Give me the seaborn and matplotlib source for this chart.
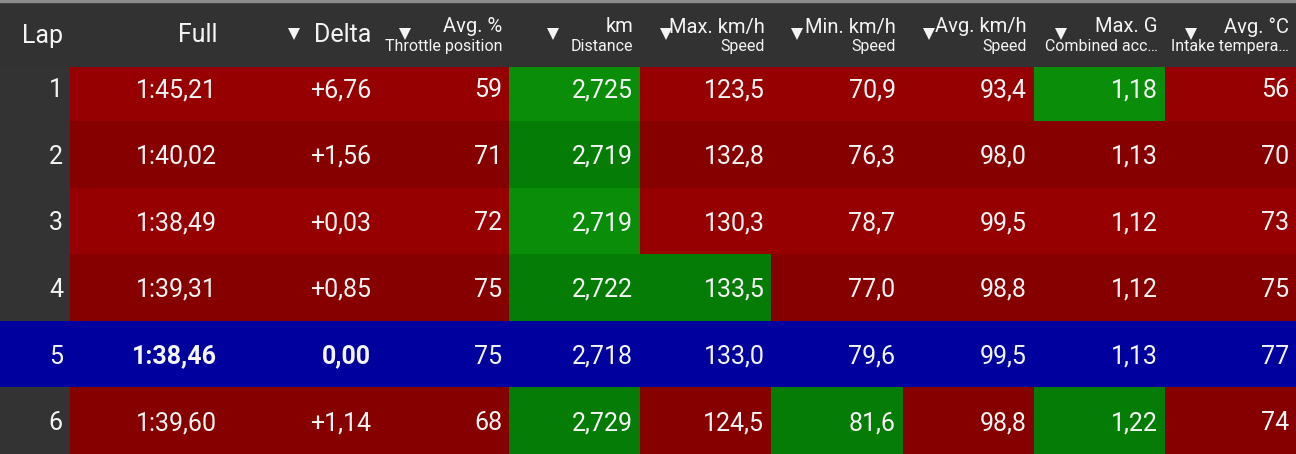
import numpy as np
import pandas as pd
import matplotlib
matplotlib.use("Agg")
import matplotlib.pyplot as plt
from matplotlib.colors import ListedColormap
from matplotlib.patches import Rectangle
import seaborn as sns

# ---------------- data ----------------
laps = [1, 2, 3, 4, 5, 6]
full_times = ["1:45,21", "1:40,02", "1:38,49", "1:39,31", "1:38,46", "1:39,60"]
deltas = ["+6,76", "+1,56", "+0,03", "+0,85", "0,00", "+1,14"]
throttle = [59, 71, 72, 75, 75, 68]
distance = [2.725, 2.719, 2.719, 2.722, 2.718, 2.729]
max_speed = [123.5, 132.8, 130.3, 133.5, 133.0, 124.5]
min_speed = [70.9, 76.3, 78.7, 77.0, 79.6, 81.6]
avg_speed = [93.4, 98.0, 99.5, 98.8, 99.5, 98.8]
max_g = [1.18, 1.13, 1.12, 1.12, 1.13, 1.22]
intake_temp = [56, 70, 73, 75, 77, 74]
best_lap = 5

header_main = ["Lap", "Full", "Delta", "Avg. %", "km", "Max. km/h",
               "Min. km/h", "Avg. km/h", "Max. G", "Avg. °C"]
header_sub = ["", "", "", "Throttle position", "Distance", "Speed",
              "Speed", "Speed", "Combined acc…", "Intake tempera…"]
sort_marker = [False, False, True, True, True, True, True, True, True, True]

metric_values = [throttle, distance, max_speed, min_speed, avg_speed, max_g, intake_temp]
metric_decimals = [0, 3, 1, 1, 1, 2, 0]

# ---------------- style / layout ----------------
W, H = 1296, 454
HEADER_H = 67
ROW_H = 66.6
LAP_W = 70
FD_W = 154
REST_W = (W - LAP_W - 2 * FD_W) / 7
PAD = 7

FONT = ["Roboto", "DejaVu Sans"]
TXT = "#f4f4f4"
palette = ["#960000", "#860000",   # red (odd/even rows)
           "#0a8e0a", "#057c05",   # green
           "#00009e", "#00009e",   # blue (best lap)
           "#333333", "#333333"]   # gray (lap column)
cmap = ListedColormap(palette)
RED, GREEN, BLUE, GRAY = 0, 1, 2, 3

sns.set_theme(style="white")
plt.rcParams["font.family"] = FONT

best_idx = laps.index(best_lap)
n = len(laps)


def code(kind, r):
    if r == best_idx:
        return BLUE * 2
    return kind * 2 + (r % 2)


def fmt_num(v, d):
    return f"{v:.{d}f}".replace(".", ",")


lap_codes = pd.DataFrame({"Lap": [code(GRAY, r) for r in range(n)]})
fd_codes = pd.DataFrame({"Full": [code(RED, r) for r in range(n)],
                         "Delta": [code(RED, r) for r in range(n)]})
rest_codes = pd.DataFrame({
    header_main[3 + k]: [code(GREEN if vals[r] > vals[best_idx] else RED, r)
                         for r in range(n)]
    for k, vals in enumerate(metric_values)})

lap_text = [[str(l)] for l in laps]
fd_text = [[full_times[r], deltas[r]] for r in range(n)]
rest_text = [[fmt_num(vals[r], d) for vals, d in zip(metric_values, metric_decimals)]
             for r in range(n)]

fig = plt.figure(figsize=(W / 100, H / 100), dpi=100)
fig.patch.set_facecolor("#333333")

blocks = [
    (0, LAP_W, lap_codes, lap_text),
    (LAP_W, 2 * FD_W, fd_codes, fd_text),
    (LAP_W + 2 * FD_W, 7 * REST_W, rest_codes, rest_text),
]

for x0, width, codes, texts in blocks:
    ax = fig.add_axes([x0 / W, 0, width / W, 1])
    sns.heatmap(codes, ax=ax, cmap=cmap, vmin=-0.5, vmax=7.5, cbar=False,
                xticklabels=False, yticklabels=False, linewidths=0)
    ncols = codes.shape[1]
    col_px = width / ncols
    ax.set_xlim(0, ncols)
    ax.set_ylim(n, n - H / ROW_H)
    ax.set_axis_off()
    for r in range(n):
        for c in range(ncols):
            bold = (r == best_idx and codes is fd_codes)
            ax.text(c + 1 - PAD / col_px, r + 0.5, texts[r][c], ha="right",
                    va="center_baseline", color=TXT, fontsize=18,
                    fontweight="bold" if bold else "normal", family=FONT)

# ---------------- header ----------------
hax = fig.add_axes([0, 1 - HEADER_H / H, 1, HEADER_H / H])
hax.set_xlim(0, W)
hax.set_ylim(HEADER_H, 0)
hax.set_axis_off()
hax.add_patch(Rectangle((0, 0), 1, 1, transform=hax.transAxes,
                        color="#323232", zorder=0))
hax.add_patch(Rectangle((0, 1 - 2 / HEADER_H), 1, 2 / HEADER_H,
                        transform=hax.transAxes, color="#8c8c8c", zorder=1))

col_edges = [0, LAP_W, LAP_W + FD_W, LAP_W + 2 * FD_W] + \
            [LAP_W + 2 * FD_W + REST_W * (k + 1) for k in range(7)]
marker_off = [0, 0, 70, 27, 44, 26, 26, 26, 27, 26]

for i, (main, sub) in enumerate(zip(header_main, header_sub)):
    left, right = col_edges[i], col_edges[i + 1]
    if sub:
        hax.text(right - PAD, 25, main, ha="right", va="center_baseline",
                 color=TXT, fontsize=14.5, family=FONT, zorder=3)
        hax.text(right - PAD, 45, sub, ha="right", va="center_baseline",
                 color=TXT, fontsize=11.5, family=FONT, zorder=3)
    else:
        hax.text(right - PAD, 33, main, ha="right", va="center_baseline",
                 color=TXT, fontsize=18, family=FONT, zorder=3)
    if sort_marker[i]:
        hax.plot([left + marker_off[i]], [34], marker="v", markersize=9,
                 color=TXT, markeredgewidth=0, zorder=4)

fig.savefig("out.png", dpi=100, facecolor=fig.get_facecolor())
